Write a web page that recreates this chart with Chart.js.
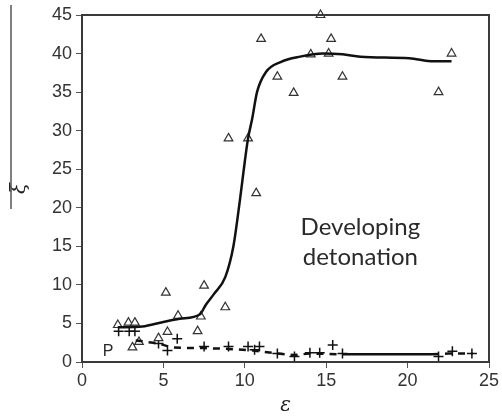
<!DOCTYPE html>
<html lang="en">
<head>
  <meta charset="UTF-8">
  <title>Developing detonation</title>
  <script src="https://cdn.jsdelivr.net/npm/chart.js"></script>
  <style>
    html, body { margin: 0; padding: 0; background: #fff; }
    #wrap { width: 502px; height: 418px; position: relative; }
  </style>
</head>
<body>
  <div id="wrap"><canvas id="chart" width="502" height="418"></canvas></div>
  <script>
    // open triangles: measured points
    const triX = [2.2, 2.85, 3.25, 3.1, 3.5, 4.7, 5.25, 5.15, 5.9, 7.1, 7.3, 7.5, 8.8, 9.0, 10.2, 10.7, 11.0, 12.0, 13.0, 14.05, 14.65, 15.3, 15.15, 16.0, 21.9, 22.7];
    const triY = [4.8, 5.1, 5.1, 1.9, 2.6, 3.1, 3.9, 9.0, 6.0, 4.0, 5.9, 9.9, 7.1, 29.0, 29.0, 21.9, 41.9, 37.0, 34.9, 39.9, 45.0, 41.9, 40.0, 37.0, 35.0, 40.0];

    // crosses
    const crossX = [2.25, 2.9, 3.25, 4.7, 5.25, 5.85, 7.5, 9.0, 10.2, 10.6, 10.9, 12.0, 13.05, 14.0, 14.6, 15.4, 16.0, 21.9, 22.75, 23.95];
    const crossY = [4.0, 4.0, 4.0, 2.4, 1.5, 3.0, 2.0, 2.0, 2.0, 1.6, 2.0, 1.1, 0.7, 1.2, 1.2, 2.2, 1.1, 0.7, 1.4, 1.1];

    // fitted curve through the triangles
    const curveX = [2.2, 3.7, 5.0, 6.0, 7.25, 7.6, 8.1, 8.8, 9.3, 9.7, 10.0, 10.2, 10.45, 10.75, 11.3, 12.2, 13.4, 14.8, 16.0, 17.1, 20.1, 21.6, 22.7];
    const curveY = [4.5, 4.6, 5.2, 5.6, 6.2, 7.4, 8.8, 11.0, 15.0, 21.0, 26.0, 29.0, 31.5, 35.0, 37.6, 38.9, 39.6, 40.0, 39.9, 39.6, 39.4, 39.0, 39.0];

    // curve P through the crosses
    const pX = [3.3, 4.7, 5.5, 6.5, 7.5, 9.0, 10.5, 12.0, 13.0, 14.0, 16.0, 21.5, 22.5, 24.0];
    const pY = [2.8, 2.4, 1.9, 1.8, 1.8, 1.7, 1.5, 1.1, 0.9, 1.1, 1.0, 1.0, 1.1, 1.1];

    const xTicks = [0, 5, 10, 15, 20, 25];
    const yTicks = [0, 5, 10, 15, 20, 25, 30, 35, 40, 45];

    const pts = (xs, ys) => xs.map((x, i) => ({ x: x, y: ys[i] }));

    // frame box, free text and the rule next to the y label
    const extras = {
      id: 'extras',
      afterDraw(chart) {
        const ctx = chart.ctx;
        const a = chart.chartArea;
        const xs = chart.scales.x, ys = chart.scales.y;
        ctx.save();
        ctx.strokeStyle = '#3a3a3a';
        ctx.lineWidth = 2;
        ctx.strokeRect(a.left, a.top, a.right - a.left, a.bottom - a.top);

        ctx.fillStyle = '#2a2a2a';
        ctx.textAlign = 'center';
        ctx.textBaseline = 'middle';
        ctx.font = '24px Lato';
        ctx.fillText('Developing', xs.getPixelForValue(17.1), ys.getPixelForValue(17.5));
        ctx.fillText('detonation', xs.getPixelForValue(17.1), ys.getPixelForValue(13.6));

        ctx.font = '16px "Liberation Sans"';
        ctx.fillText('P', xs.getPixelForValue(1.6), ys.getPixelForValue(1.3));

        ctx.strokeStyle = '#555';
        ctx.lineWidth = 1.5;
        ctx.beginPath();
        ctx.moveTo(11, 5);
        ctx.lineTo(11, 209);
        ctx.stroke();
        ctx.restore();
      }
    };

    new Chart(document.getElementById('chart'), {
      type: 'scatter',
      data: {
        datasets: [
          {
            label: 'curve',
            type: 'line',
            data: pts(curveX, curveY),
            borderColor: '#111',
            borderWidth: 2.5,
            pointRadius: 0,
            cubicInterpolationMode: 'monotone',
            fill: false
          },
          {
            label: 'P',
            type: 'line',
            data: pts(pX, pY),
            borderColor: '#111',
            borderWidth: 2.5,
            borderDash: [7, 6],
            segment: {
              borderDash: c => (c.p0.parsed.x >= 16 && c.p1.parsed.x <= 21.5) ? [] : [7, 6]
            },
            pointRadius: 0,
            tension: 0,
            fill: false
          },
          {
            label: 'triangles',
            data: pts(triX, triY),
            pointStyle: 'triangle',
            pointRadius: 5,
            backgroundColor: '#fff',
            borderColor: '#333',
            borderWidth: 1.2,
            clip: false
          },
          {
            label: 'crosses',
            data: pts(crossX, crossY),
            pointStyle: 'cross',
            pointRadius: 5,
            borderColor: '#111',
            borderWidth: 1.5,
            clip: false
          }
        ]
      },
      options: {
        responsive: false,
        animation: false,
        layout: { padding: { top: 15, right: 13, left: 0, bottom: 0 } },
        plugins: {
          legend: { display: false },
          tooltip: { enabled: false }
        },
        scales: {
          x: {
            type: 'linear',
            min: 0,
            max: 25,
            afterBuildTicks: s => { s.ticks = xTicks.map(v => ({ value: v })); },
            afterFit: s => { s.height = 56; },
            grid: { drawOnChartArea: false, drawTicks: true, tickLength: 6, color: '#555' },
            border: { display: false },
            ticks: { color: '#333', font: { family: 'Liberation Sans', size: 18 }, padding: 2 },
            title: { display: true, text: 'ε', color: '#222', font: { family: 'DejaVu Serif', size: 20, style: 'italic' }, padding: { top: 0, bottom: 0 } }
          },
          y: {
            type: 'linear',
            min: 0,
            max: 45,
            afterBuildTicks: s => { s.ticks = yTicks.map(v => ({ value: v })); },
            afterFit: s => { s.width = 82; },
            grid: { drawOnChartArea: false, drawTicks: true, tickLength: 6, color: '#555' },
            border: { display: false },
            ticks: { color: '#333', font: { family: 'Liberation Sans', size: 18 }, padding: 4 },
            title: { display: true, text: 'ξ', color: '#222', font: { family: 'DejaVu Serif', size: 20, style: 'italic' }, padding: { top: 8, bottom: 0 } }
          }
        }
      },
      plugins: [extras]
    });
  </script>
</body>
</html>
